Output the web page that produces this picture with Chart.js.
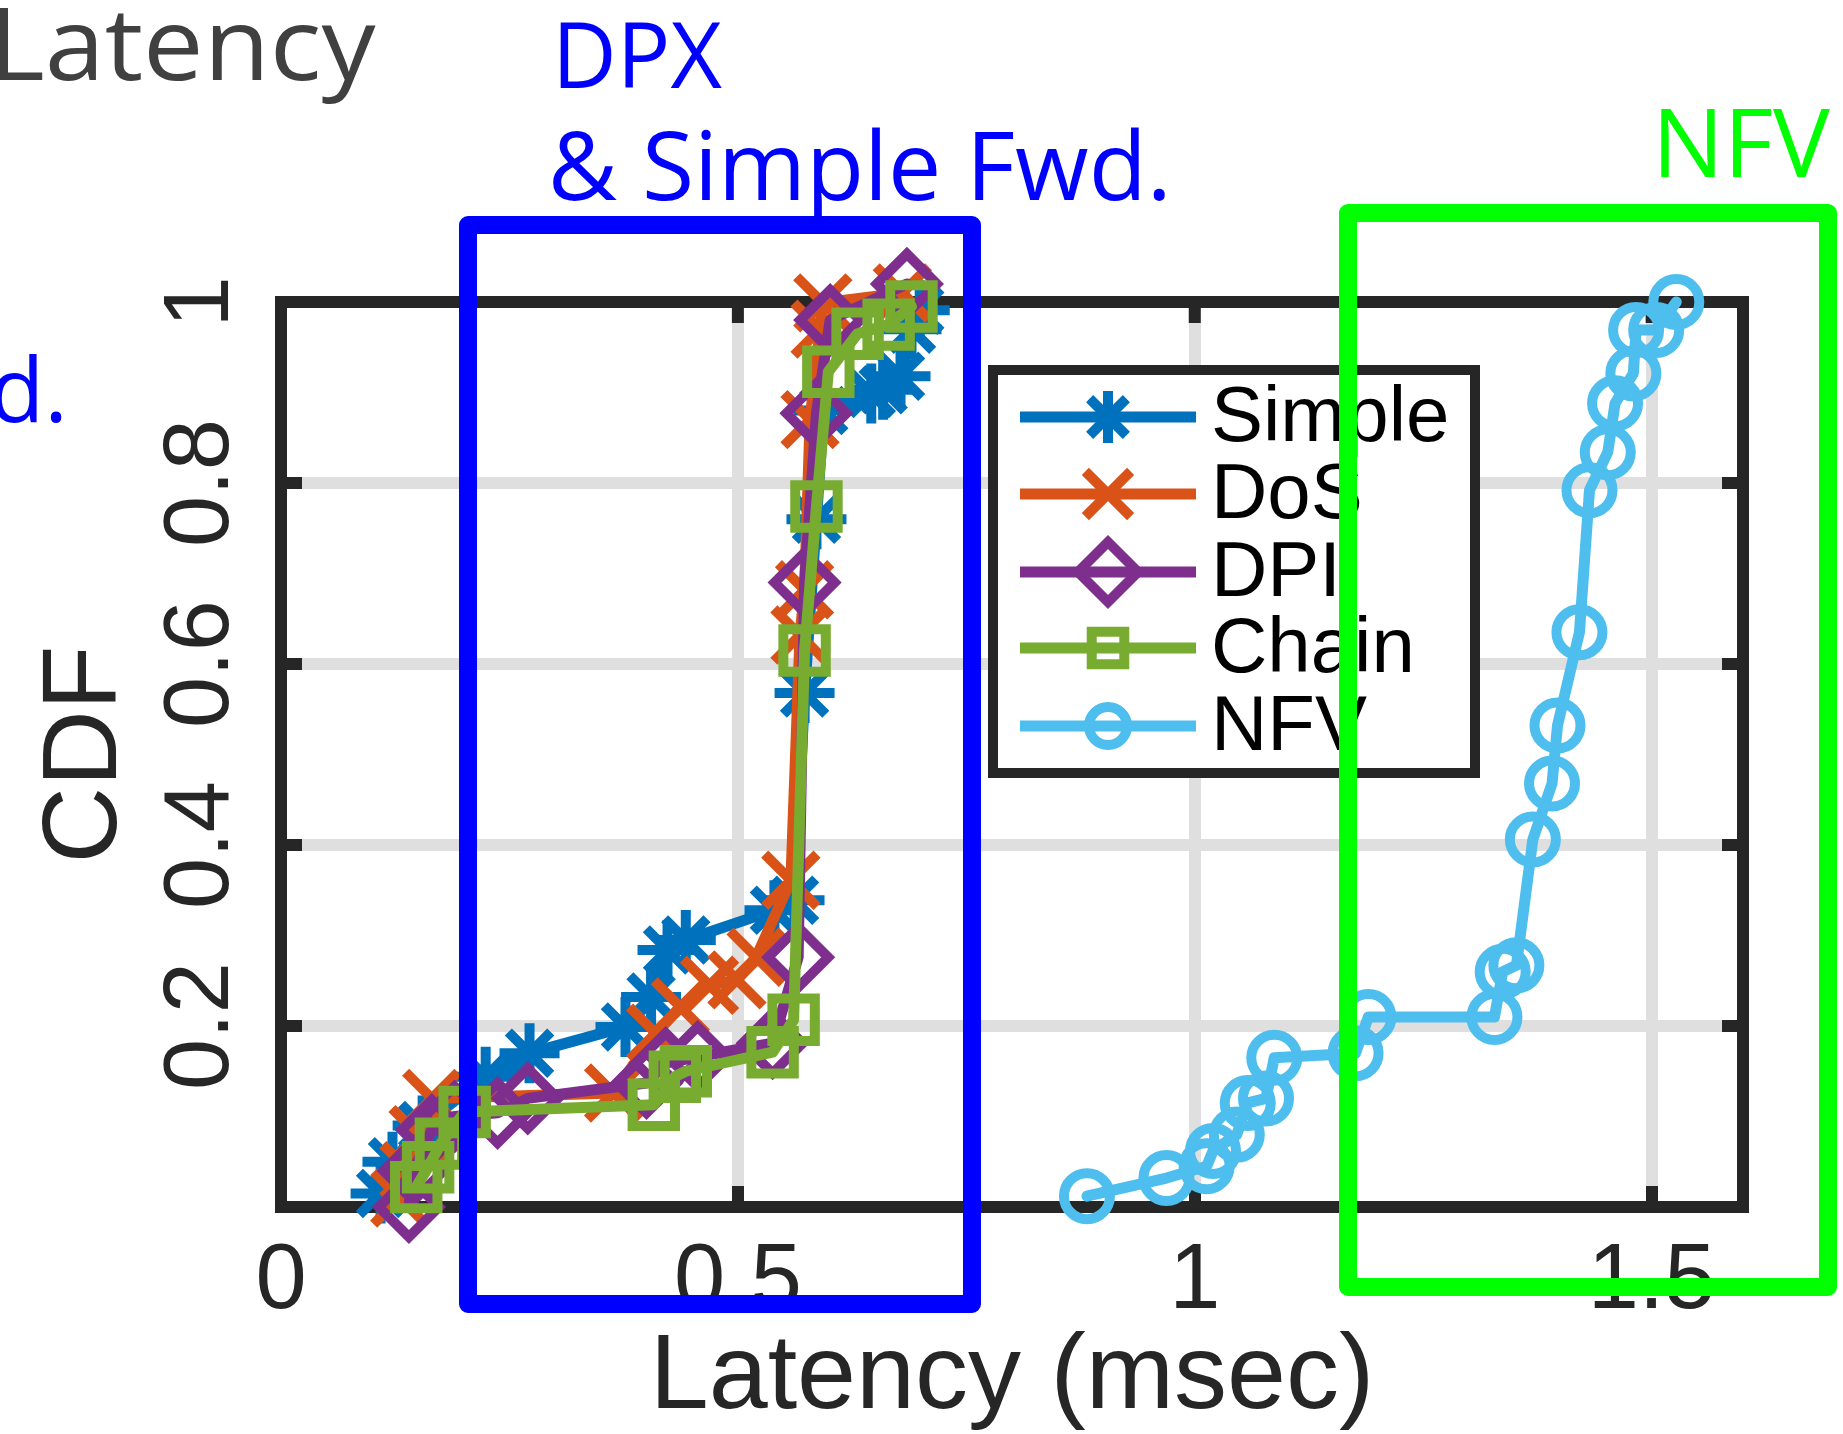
<!DOCTYPE html>
<html>
<head>
<meta charset="utf-8">
<style>
  html, body { margin: 0; padding: 0; background: #ffffff; overflow: hidden; }
  #wrap { width: 1843px; height: 1434px; position: relative; }
  canvas { display: block; }
</style>
<script src="https://cdn.jsdelivr.net/npm/chart.js@4.4.1/dist/chart.umd.min.js"></script>
</head>
<body>
<div id="wrap"><canvas id="c" width="1843" height="1434" style="width:1843px;height:1434px"></canvas></div>
<script>
// ---------------- data ----------------
const seriesNames = ['Simple', 'DoS', 'DPI', 'Chain', 'NFV'];

const simpleLatency = [0.109, 0.122, 0.155, 0.224, 0.272, 0.377, 0.405, 0.423, 0.443, 0.540, 0.562, 0.573, 0.586, 0.594, 0.646, 0.659, 0.678, 0.690, 0.699];
const simpleCdf     = [0.015, 0.050, 0.090, 0.144, 0.170, 0.199, 0.232, 0.284, 0.295, 0.328, 0.339, 0.568, 0.760, 0.880, 0.899, 0.903, 0.918, 0.970, 0.991];

const dosLatency = [0.130, 0.140, 0.150, 0.165, 0.364, 0.410, 0.437, 0.469, 0.499, 0.520, 0.558, 0.568, 0.573, 0.579, 0.590, 0.593, 0.680];
const dosCdf     = [0.010, 0.040, 0.080, 0.120, 0.126, 0.192, 0.221, 0.245, 0.251, 0.276, 0.361, 0.632, 0.682, 0.870, 0.970, 0.999, 1.010];

const dpiLatency = [0.140, 0.145, 0.165, 0.190, 0.237, 0.270, 0.400, 0.421, 0.456, 0.538, 0.566, 0.573, 0.586, 0.601, 0.685];
const dpiCdf     = [0.000, 0.040, 0.085, 0.100, 0.104, 0.120, 0.137, 0.159, 0.166, 0.181, 0.276, 0.690, 0.877, 0.980, 1.020];

const chainLatency = [0.148, 0.161, 0.175, 0.201, 0.408, 0.431, 0.443, 0.538, 0.561, 0.573, 0.586, 0.599, 0.631, 0.665, 0.690];
const chainCdf     = [0.022, 0.044, 0.070, 0.105, 0.113, 0.144, 0.150, 0.171, 0.207, 0.615, 0.774, 0.923, 0.965, 0.975, 0.995];

const nfvLatency = [0.882, 0.969, 1.013, 1.020, 1.046, 1.058, 1.078, 1.087, 1.176, 1.190, 1.328, 1.337, 1.352, 1.370, 1.391, 1.397, 1.421, 1.432, 1.452, 1.460, 1.480, 1.483, 1.505, 1.527];
const nfvCdf     = [0.012, 0.032, 0.045, 0.062, 0.080, 0.115, 0.120, 0.165, 0.170, 0.210, 0.210, 0.260, 0.267, 0.406, 0.468, 0.532, 0.635, 0.792, 0.834, 0.888, 0.921, 0.969, 0.969, 1.000];

const xTickValues = [0, 0.5, 1, 1.5];
const yTickValues = [0.2, 0.4, 0.6, 0.8, 1];
const xAxisTitle = 'Latency (msec)';
const yAxisTitle = 'CDF';
const annotationTexts = ['Latency', 'DPX', '& Simple Fwd.', 'NFV', 'd.'];

// ---------------- styles ----------------
const colors = ['#0072BD', '#D95319', '#7E2F8E', '#77AC30', '#4DBEEE'];
const pointStyles = ['star', 'crossRot', 'rectRot', 'rect', 'circle'];
const plotRadius = [30, 37, 30, 30, 23];
const legendRadius = [26, 32, 30, 23, 19];
const xs = [simpleLatency, dosLatency, dpiLatency, chainLatency, nfvLatency];
const ys = [simpleCdf, dosCdf, dpiCdf, chainCdf, nfvCdf];

const AXIS = '#262626';
const GRID = '#dfdfdf';
const TICK_FONT = 'Liberation Sans';

function pairs(a, b) { return a.map((v, i) => ({ x: v, y: b[i] })); }

const datasets = seriesNames.map((name, i) => ({
  label: name,
  data: pairs(xs[i], ys[i]),
  showLine: true,
  borderColor: colors[i],
  backgroundColor: 'rgba(0,0,0,0)',
  borderWidth: 11,
  borderJoinStyle: 'round',
  borderCapStyle: 'round',
  tension: 0,
  pointStyle: pointStyles[i],
  pointRadius: plotRadius[i],
  pointHoverRadius: plotRadius[i],
  pointBorderWidth: 10,
  pointHoverBorderWidth: 10,
  pointBorderColor: colors[i],
  pointBackgroundColor: 'rgba(0,0,0,0)',
  clip: false,
  order: seriesNames.length - i
}));

function drawMarker(ctx, style, r, x, y, color) {
  ctx.save();
  ctx.strokeStyle = color;
  ctx.fillStyle = 'rgba(0,0,0,0)';
  ctx.lineWidth = 10;
  if (Chart.helpers && Chart.helpers.drawPoint) {
    Chart.helpers.drawPoint(ctx, { pointStyle: style, radius: r, borderWidth: 10, rotation: 0 }, x, y);
  }
  ctx.restore();
}

// draw text so that its ink spans [inkLeft, inkRight] horizontally
function drawFitted(ctx, text, font, inkLeft, inkRight, baseline) {
  ctx.save();
  ctx.font = font;
  ctx.textAlign = 'left';
  ctx.textBaseline = 'alphabetic';
  const m = ctx.measureText(text);
  const inkW = m.actualBoundingBoxLeft + m.actualBoundingBoxRight;
  const sx = (inkRight - inkLeft) / inkW;
  ctx.translate(inkLeft, baseline);
  ctx.scale(sx, 1);
  ctx.fillText(text, m.actualBoundingBoxLeft, 0);
  ctx.restore();
}

const boxPlugin = {
  id: 'boxPlugin',
  beforeDatasetsDraw(chart) {
    const { ctx, chartArea: ca, scales } = chart;
    ctx.save();
    ctx.strokeStyle = AXIS;
    ctx.lineWidth = 12;
    ctx.lineCap = 'butt';
    ctx.beginPath();
    ctx.moveTo(ca.left - 6, ca.top); ctx.lineTo(ca.right + 6, ca.top);
    ctx.moveTo(ca.right, ca.top - 6); ctx.lineTo(ca.right, ca.bottom + 6);
    ctx.stroke();
    ctx.beginPath();
    xTickValues.forEach(v => {
      const px = scales.x.getPixelForValue(v);
      ctx.moveTo(px, ca.top); ctx.lineTo(px, ca.top + 21);
    });
    yTickValues.forEach(v => {
      const py = scales.y.getPixelForValue(v);
      ctx.moveTo(ca.right, py); ctx.lineTo(ca.right - 21, py);
    });
    ctx.stroke();
    ctx.restore();
  }
};

const legendPlugin = {
  id: 'legendPlugin',
  afterDatasetsDraw(chart) {
    const ctx = chart.ctx;
    const L = { left: 993, top: 370, w: 482, h: 403 };
    ctx.save();
    ctx.fillStyle = '#ffffff';
    ctx.fillRect(L.left, L.top, L.w, L.h);
    ctx.strokeStyle = AXIS;
    ctx.lineWidth = 10;
    ctx.strokeRect(L.left, L.top, L.w, L.h);
    const rows = [417, 494, 572, 648, 726];
    seriesNames.forEach((name, i) => {
      const y = rows[i];
      ctx.strokeStyle = colors[i];
      ctx.lineWidth = 11;
      ctx.lineCap = 'butt';
      ctx.beginPath();
      ctx.moveTo(1020, y); ctx.lineTo(1196, y);
      ctx.stroke();
      drawMarker(ctx, pointStyles[i], legendRadius[i], 1108, y, colors[i]);
      ctx.fillStyle = '#000000';
      ctx.font = '78px "Liberation Sans"';
      ctx.textBaseline = 'middle';
      ctx.textAlign = 'left';
      ctx.fillText(name, 1211, y + 2);
    });
    ctx.restore();
  }
};

const annotationPlugin = {
  id: 'annotationPlugin',
  afterDraw(chart) {
    const ctx = chart.ctx;
    ctx.save();
    ctx.lineJoin = 'round';
    ctx.lineWidth = 18;
    ctx.strokeStyle = '#0000ff';
    ctx.strokeRect(468, 225, 504, 1079);
    ctx.strokeStyle = '#00ff00';
    ctx.strokeRect(1348, 213, 480, 1074);

    ctx.fillStyle = '#404040';
    drawFitted(ctx, annotationTexts[0], '101px "Open Sans"', -2, 376, 80);

    ctx.textBaseline = 'alphabetic';
    ctx.textAlign = 'left';
    ctx.fillStyle = '#0000ff';
    ctx.font = '92px "Open Sans"';
    ctx.fillText(annotationTexts[1], 552, 88, 170);
    ctx.font = '95px "Open Sans"';
    ctx.fillText(annotationTexts[2], 548, 200, 628);
    ctx.font = '90px "Open Sans"';
    ctx.textAlign = 'right';
    ctx.fillText(annotationTexts[4], 68, 422);

    ctx.textAlign = 'left';
    ctx.fillStyle = '#00ff00';
    ctx.font = '96px "Open Sans"';
    ctx.fillText(annotationTexts[3], 1652, 177, 178);
    ctx.restore();
  }
};

function build() {
  const ctx = document.getElementById('c').getContext('2d');
  new Chart(ctx, {
    type: 'scatter',
    data: { datasets },
    plugins: [boxPlugin, legendPlugin, annotationPlugin],
    options: {
      responsive: false,
      animation: false,
      devicePixelRatio: 1,
      events: [],
      layout: { padding: { left: 0, top: 302, right: 100, bottom: 0 } },
      plugins: { legend: { display: false }, tooltip: { enabled: false }, title: { display: false } },
      scales: {
        x: {
          type: 'linear',
          position: 'bottom',
          min: 0,
          max: 1.6,
          afterBuildTicks: s => { s.ticks = xTickValues.map(v => ({ value: v })); },
          afterFit: s => { s.height = 227; },
          grid: { color: GRID, lineWidth: 12, drawTicks: true, tickLength: -21, tickColor: AXIS, tickWidth: 12 },
          border: { display: true, color: AXIS, width: 12 },
          ticks: {
            color: AXIS,
            font: { family: TICK_FONT, size: 92 },
            padding: 41,
            maxRotation: 0, minRotation: 0,
            autoSkip: false,
            callback: v => String(v)
          },
          title: {
            display: true, text: xAxisTitle, color: AXIS,
            font: { family: TICK_FONT, size: 106, lineHeight: 1 },
            padding: { top: 0, bottom: 2 }
          }
        },
        y: {
          type: 'linear',
          position: 'left',
          min: 0,
          max: 1,
          afterBuildTicks: s => { s.ticks = yTickValues.map(v => ({ value: v })); },
          afterFit: s => { s.width = 281; },
          grid: { color: GRID, lineWidth: 12, drawTicks: true, tickLength: -21, tickColor: AXIS, tickWidth: 12 },
          border: { display: true, color: AXIS, width: 12 },
          ticks: {
            color: AXIS,
            font: { family: TICK_FONT, size: 92 },
            padding: 35,
            minRotation: 90, maxRotation: 90,
            crossAlign: 'center',
            autoSkip: false,
            callback: v => String(v)
          },
          title: {
            display: true, text: yAxisTitle, color: AXIS,
            font: { family: TICK_FONT, size: 106, lineHeight: 1 },
            padding: { top: 34, bottom: 0 }
          }
        }
      }
    }
  });
}

const fontLoads = [
  '92px "Liberation Sans"', '106px "Liberation Sans"', '78px "Liberation Sans"', '92px "Open Sans"'
].map(f => (document.fonts && document.fonts.load) ? document.fonts.load(f).catch(() => null) : Promise.resolve());
Promise.all(fontLoads).then(build, build);
</script>
</body>
</html>
